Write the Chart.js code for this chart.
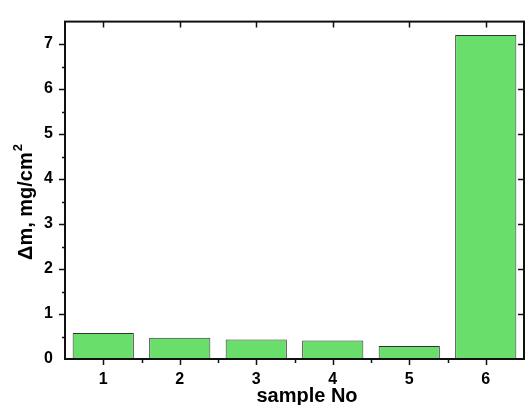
<!DOCTYPE html>
<html>
<head>
<meta charset="utf-8">
<script src="https://cdn.jsdelivr.net/npm/chart.js@4"></script>
<style>
html,body{margin:0;padding:0;background:#fff;}
#wrap{width:525px;height:405px;position:relative;}
</style>
</head>
<body>
<div id="wrap"><canvas id="c" width="525" height="405"></canvas></div>
<script>
const categories = ['1', '2', '3', '4', '5', '6'];
const massGain = [0.58, 0.47, 0.435, 0.41, 0.29, 7.2];
const yTicks = [0, 1, 2, 3, 4, 5, 6, 7];
const xTitle = 'sample No';
const yTitleMain = 'Δm, mg/cm';
const yTitleSup = '2';

const FONT = '"Liberation Sans", Arial, sans-serif';

const framePlugin = {
  id: 'frame',
  afterDraw(chart) {
    const {ctx, chartArea: a, scales: {x, y}} = chart;
    ctx.save();
    ctx.strokeStyle = '#111';
    ctx.lineWidth = 2;
    ctx.strokeRect(a.left, a.top, a.right - a.left, a.bottom - a.top);
    ctx.lineWidth = 1.5;
    ctx.beginPath();
    for (let v = 0; v <= 7.5; v += 0.5) {
      const py = Math.round(y.getPixelForValue(v)) + 0.5;
      const major = Number.isInteger(v);
      const len = major ? 6 : 3;
      if (v > 0 && v < 7.5) {
        ctx.moveTo(a.left, py); ctx.lineTo(a.left - len, py);
      }
      if (major && v > 0) {
        ctx.moveTo(a.right, py); ctx.lineTo(a.right - 6, py);
      }
    }
    for (let i = 0; i < categories.length; i++) {
      const px = Math.round(x.getPixelForValue(i)) + 0.5;
      ctx.moveTo(px, a.bottom); ctx.lineTo(px, a.bottom + 6);
      ctx.moveTo(px, a.top); ctx.lineTo(px, a.top + 6);
      if (i < categories.length - 1) {
        const mx = Math.round((x.getPixelForValue(i) + x.getPixelForValue(i + 1)) / 2) + 0.5;
        ctx.moveTo(mx, a.bottom); ctx.lineTo(mx, a.bottom + 4);
      }
    }
    ctx.stroke();
    ctx.fillStyle = '#000';
    ctx.font = 'bold 20px ' + FONT;
    ctx.textAlign = 'center';
    ctx.textBaseline = 'alphabetic';
    ctx.fillText(xTitle, 307, 402);
    // y title with superscript
    ctx.translate(32, 202);
    ctx.rotate(-Math.PI / 2);
    ctx.font = 'bold 20px ' + FONT;
    const wMain = ctx.measureText(yTitleMain).width;
    ctx.font = 'bold 13px ' + FONT;
    const wSup = ctx.measureText(yTitleSup).width;
    const start = -(wMain + wSup + 1) / 2;
    ctx.textAlign = 'left';
    ctx.font = 'bold 20px ' + FONT;
    ctx.fillText(yTitleMain, start, 0);
    ctx.font = 'bold 13px ' + FONT;
    ctx.fillText(yTitleSup, start + wMain + 1, -10);
    ctx.restore();
  }
};

new Chart(document.getElementById('c'), {
  type: 'bar',
  data: {
    labels: categories,
    datasets: [{
      data: massGain,
      backgroundColor: '#6ade6a',
      borderColor: '#333',
      borderWidth: 1,
      barPercentage: 0.8,
      categoryPercentage: 1.0
    }]
  },
  options: {
    responsive: false,
    animation: false,
    devicePixelRatio: 1,
    layout: {padding: {top: 9, right: 1, left: 0, bottom: 0}},
    plugins: {legend: {display: false}, tooltip: {enabled: false}},
    scales: {
      x: {
        grid: {display: false, drawTicks: false},
        border: {display: false},
        ticks: {color: '#000', font: {family: FONT, size: 16, weight: 'bold'}, padding: 11, maxRotation: 0},
        afterFit(s) { s.height = 46; }
      },
      y: {
        min: 0, max: 7.5,
        grid: {display: false, drawTicks: false},
        border: {display: false},
        afterBuildTicks(s) { s.ticks = yTicks.map(v => ({value: v})); },
        ticks: {color: '#000', font: {family: FONT, size: 16, weight: 'bold'}, padding: 12},
        afterFit(s) { s.width = 65; }
      }
    }
  },
  plugins: [framePlugin]
});
</script>
</body>
</html>
